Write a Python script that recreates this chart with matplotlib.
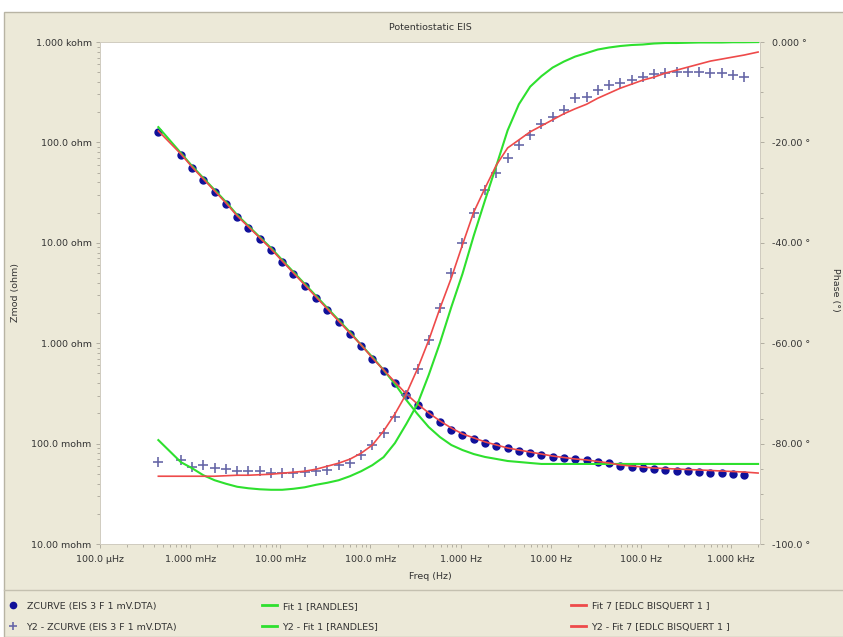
import numpy as np
import matplotlib
matplotlib.use("Agg")
import matplotlib.pyplot as plt
from matplotlib.patches import Rectangle
from matplotlib.lines import Line2D
from matplotlib.ticker import FixedLocator, NullFormatter, LogLocator

# ---- data ----
freq = [4.44e-4,
        7.90e-4, 1.05e-3, 1.40e-3, 1.87e-3, 2.50e-3, 3.33e-3, 4.44e-3, 5.92e-3,
        7.90e-3, 1.05e-2, 1.40e-2, 1.87e-2, 2.50e-2, 3.33e-2, 4.44e-2, 5.92e-2,
        7.90e-2, 0.105, 0.140, 0.187, 0.250, 0.333, 0.444, 0.592,
        0.790, 1.05, 1.40, 1.87, 2.50, 3.33, 4.44, 5.92,
        7.90, 10.5, 14.0, 18.7, 25.0, 33.3, 44.4, 59.2,
        79.0, 105, 140, 187, 250, 333, 444, 592,
        790, 1050, 1400]

zmod = [127, 75.0, 55.6, 42.2, 32.1, 24.3, 18.1, 14.0, 10.9,
        8.48, 6.44, 4.89, 3.71, 2.82, 2.14, 1.63, 1.24,
        0.938, 0.696, 0.529, 0.402, 0.305, 0.242, 0.197, 0.164,
        0.137, 0.122, 0.111, 0.101, 0.0946, 0.0904, 0.0844, 0.0806,
        0.0769, 0.0735, 0.0719, 0.0703, 0.0687, 0.0656, 0.0641, 0.0598,
        0.0585, 0.0571, 0.0558, 0.0546, 0.0533, 0.0533, 0.0521, 0.0509,
        0.0509, 0.0498, 0.0486]

phase = [-83.7, -83.3, -84.7, -84.3, -84.9, -85.1, -85.5, -85.5, -85.5,
         -85.9, -85.9, -85.9, -85.7, -85.5, -85.3, -84.3, -83.9,
         -82.3, -80.3, -77.9, -74.7, -70.3, -65.1, -59.4, -53.0,
         -46.0, -40.0, -34.0, -29.5, -26.0, -23.1, -20.5, -18.5,
         -16.3, -14.9, -13.5, -11.2, -11.0, -9.6, -8.6, -8.2,
         -7.6, -7.0, -6.4, -6.2, -6.0, -6.0, -6.0, -6.2,
         -6.2, -6.6, -7.0]

# fit curves evaluated at the same frequencies + one at the top end
fit_freq = freq + [2000]

fit1_zmod = [142, 78.3, 58.2, 44.2, 33.6, 25.5, 18.9, 14.7, 11.4,
             8.88, 6.74, 5.12, 3.89, 2.95, 2.24, 1.70, 1.29,
             0.959, 0.729, 0.541, 0.393, 0.272, 0.197, 0.146, 0.116,
             0.0968, 0.0863, 0.0787, 0.0736, 0.0703, 0.0671, 0.0656, 0.0641,
             0.0627, 0.0627, 0.0627, 0.0627, 0.0627, 0.0627, 0.0627, 0.0627,
             0.0627, 0.0627, 0.0627, 0.0627, 0.0627, 0.0627, 0.0627, 0.0627,
             0.0627, 0.0627, 0.0627, 0.0627]

fit1_phase = [-79.3, -83.7, -84.9, -86.3, -87.3, -88.0, -88.6, -88.9, -89.1,
              -89.2, -89.2, -89.0, -88.7, -88.2, -87.8, -87.3, -86.5,
              -85.5, -84.3, -82.7, -79.9, -76.1, -72.1, -66.3, -59.9,
              -52.8, -46.2, -38.6, -31.5, -24.6, -17.6, -12.4, -8.9,
              -6.8, -5.1, -3.9, -2.9, -2.2, -1.5, -1.1, -0.8,
              -0.6, -0.5, -0.3, -0.2, -0.2, -0.15, -0.1, -0.1,
              -0.1, -0.05, -0.05, -0.02]

fit7_zmod = [130, 76.6, 56.9, 43.2, 32.8, 24.9, 18.5, 14.4, 11.2,
             8.67, 6.59, 5.00, 3.80, 2.88, 2.19, 1.66, 1.26,
             0.959, 0.713, 0.541, 0.411, 0.312, 0.248, 0.202, 0.168,
             0.143, 0.125, 0.114, 0.104, 0.0968, 0.0904, 0.0863, 0.0824,
             0.0787, 0.0752, 0.0727, 0.0703, 0.0687, 0.0664, 0.0641, 0.0612,
             0.0598, 0.0585, 0.0571, 0.0565, 0.0558, 0.0552, 0.0546, 0.0540,
             0.0533, 0.0527, 0.0521, 0.0509]

fit7_phase = [-86.5, -86.5, -86.5, -86.5, -86.5, -86.4, -86.3, -86.3, -86.2,
              -86.1, -85.9, -85.7, -85.5, -85.1, -84.5, -83.9, -83.1,
              -81.9, -80.3, -77.5, -74.1, -70.1, -65.1, -59.4, -53.0,
              -47.0, -40.4, -33.9, -29.1, -24.5, -21.1, -19.5, -17.9,
              -16.7, -15.5, -14.3, -13.3, -12.4, -11.2, -10.2, -9.2,
              -8.4, -7.6, -7.0, -6.2, -5.6, -5.0, -4.4, -3.8,
              -3.4, -3.0, -2.6, -2.0]

x_ticks = [1e-4, 1e-3, 1e-2, 1e-1, 1, 10, 100, 1000]
x_ticklabels = ["100.0 µHz", "1.000 mHz", "10.00 mHz", "100.0 mHz",
                "1.000 Hz", "10.00 Hz", "100.0 Hz", "1.000 kHz"]
z_ticks = [0.01, 0.1, 1, 10, 100, 1000]
z_ticklabels = ["10.00 mohm", "100.0 mohm", "1.000 ohm", "10.00 ohm",
                "100.0 ohm", "1.000 kohm"]
ph_ticks = [-100, -80, -60, -40, -20, 0]
ph_ticklabels = ["-100.0 °", "-80.00 °", "-60.00 °", "-40.00 °", "-20.00 °", "0.000 °"]

labels = ["ZCURVE (EIS 3 F 1 mV.DTA)", "Y2 - ZCURVE (EIS 3 F 1 mV.DTA)",
          "Fit 1 [RANDLES]", "Y2 - Fit 1 [RANDLES]",
          "Fit 7 [EDLC BISQUERT 1 ]", "Y2 - Fit 7 [EDLC BISQUERT 1 ]"]

# ---- style ----
plt.rcParams['font.family'] = 'DejaVu Sans'
plt.rcParams['font.size'] = 6.8
bg = '#ece9d8'
txt = '#333333'
blue = '#10109a'
cross = '#6868a8'
green = '#2ee02e'
red = '#ee4a4a'

W, H = 843, 637
fig = plt.figure(figsize=(W / 100, H / 100), dpi=100)
fig.patch.set_facecolor('white')
fig.add_artist(Rectangle((4 / W, 0), 1, 1 - 12 / H, transform=fig.transFigure,
                         facecolor=bg, edgecolor='#b8b4a4', lw=1, zorder=-10))
fig.add_artist(Line2D([4 / W, 1], [1 - 590 / H, 1 - 590 / H], transform=fig.transFigure,
                      color='#c4c0b0', lw=1))

ax = fig.add_axes([100 / W, 1 - 544 / H, 660 / W, 502 / H])
ax.set_facecolor('white')
ax.set_xscale('log')
ax.set_yscale('log')
ax.set_xlim(1e-4, 2.1e3)
ax.set_ylim(0.01, 1000)

ax.plot(freq, zmod, 'o', color=blue, ms=5, mec=blue, zorder=2)
ax.plot(fit_freq, fit1_zmod, color=green, lw=1.5, zorder=3)
ax.plot(fit_freq, fit7_zmod, color=red, lw=1.2, zorder=4)

ax2 = ax.twinx()
ax2.set_ylim(-100, 0)
ax2.plot(freq, phase, '+', color=cross, ms=6.5, mew=1.2, zorder=2)
ax2.plot(fit_freq, fit1_phase, color=green, lw=1.5, zorder=3)
ax2.plot(fit_freq, fit7_phase, color=red, lw=1.2, zorder=4)

for a in (ax, ax2):
    for s in a.spines.values():
        s.set_color('#d0ccc0')
        s.set_linewidth(0.6)

ax.xaxis.set_major_locator(FixedLocator(x_ticks))
ax.set_xticklabels(x_ticklabels)
ax.xaxis.set_minor_locator(LogLocator(base=10, subs=np.arange(2, 10)))
ax.xaxis.set_minor_formatter(NullFormatter())
ax.yaxis.set_major_locator(FixedLocator(z_ticks))
ax.set_yticklabels(z_ticklabels)
ax.yaxis.set_minor_locator(LogLocator(base=10, subs=np.arange(2, 10)))
ax.yaxis.set_minor_formatter(NullFormatter())
ax.tick_params(which='both', direction='out', color='#a8a498', labelcolor=txt, width=0.6)
ax.tick_params(which='major', length=3, pad=3)
ax.tick_params(which='minor', length=2)
ax.tick_params(axis='x', which='major', pad=5)

ax2.set_yticks(ph_ticks)
ax2.set_yticklabels(ph_ticklabels)
ax2.set_yticks(np.arange(-95, 0, 5), minor=True)
ax2.tick_params(which='both', direction='out', color='#a8a498', labelcolor=txt, width=0.6)
ax2.tick_params(which='major', length=3, pad=6)
ax2.tick_params(which='minor', length=2)

ax.set_title("Potentiostatic EIS", color=txt, fontsize=6.8, pad=9)
ax.set_xlabel("Freq (Hz)", color=txt, labelpad=6)
ax.set_ylabel("Zmod (ohm)", color=txt, labelpad=8)
fig.text(835 / W, 0.545, "Phase (°)", rotation=270, ha='center', va='center',
         color=txt, fontsize=6.8)

# legend, three columns of two rows
handles = [Line2D([], [], ls='none', marker='o', color=blue, ms=4.5),
           Line2D([], [], ls='none', marker='+', color=cross, ms=6, mew=1.2),
           Line2D([], [], color=green, lw=2),
           Line2D([], [], color=green, lw=2),
           Line2D([], [], color=red, lw=2),
           Line2D([], [], color=red, lw=2)]
col_x = [2, 258, 567]
for i, cx in enumerate(col_x):
    leg = fig.legend(handles[2 * i:2 * i + 2], labels[2 * i:2 * i + 2],
                     loc='upper left', bbox_to_anchor=(cx / W, 1 - 598 / H),
                     frameon=False, fontsize=6.8, handlelength=1.6,
                     handletextpad=0.6, labelspacing=1.25, borderaxespad=0)
    for t in leg.get_texts():
        t.set_color(txt)

fig.savefig("out.png", dpi=100, facecolor=fig.get_facecolor())
